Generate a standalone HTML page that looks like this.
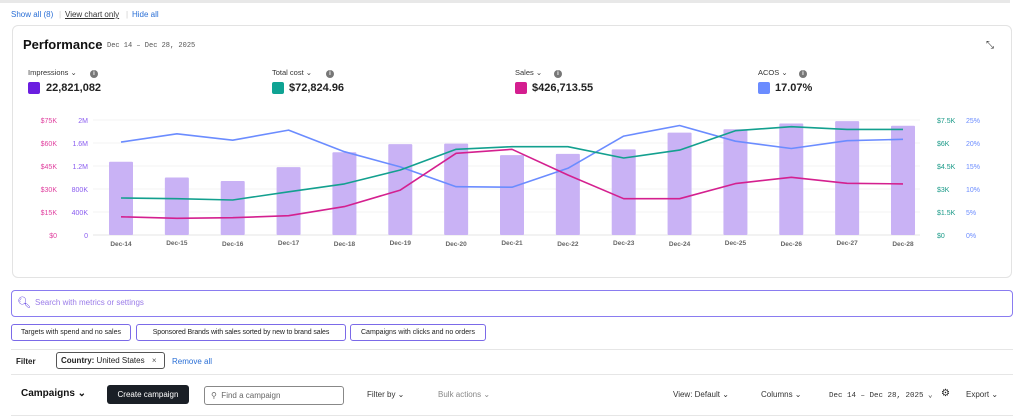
<!DOCTYPE html>
<html><head><meta charset="utf-8"><style>
body{margin:0;width:1024px;height:416px;overflow:hidden;background:#fff;font-family:"Liberation Sans",sans-serif;position:relative}
.a{position:absolute;white-space:nowrap}
.lnk{color:#2a6fd6;font-size:8px}
.chip{position:absolute;top:324px;height:17px;border:1px solid #7b6ae8;border-radius:3px;font-size:7px;color:#222;line-height:15px;padding:0 4px;box-sizing:border-box;white-space:nowrap;overflow:hidden;text-align:center}
.info{display:inline-block;width:8px;height:8px;border-radius:50%;background:#777;color:#fff;font-size:6px;text-align:center;line-height:8px;font-weight:bold}
.sw{position:absolute;width:12px;height:12px;border-radius:2px}
.mv{font-size:11px;font-weight:bold;color:#222}
.ml{font-size:7.5px;color:#333}
.tb{font-size:8px;color:#333}
</style></head><body>
<div class="a" style="left:0;top:0;width:1010px;height:3px;background:#e8e8e8"></div>
<div class="a lnk" style="left:11px;top:10px">Show all (8)</div>
<div class="a" style="left:59px;top:10px;font-size:8px;color:#ccc">|</div>
<div class="a" style="left:65px;top:10px;font-size:8px;color:#333;text-decoration:underline">View chart only</div>
<div class="a" style="left:126px;top:10px;font-size:8px;color:#ccc">|</div>
<div class="a lnk" style="left:132px;top:10px">Hide all</div>
<div class="a" style="left:12px;top:25px;width:1000px;height:253px;border:1px solid #e3e3e3;border-radius:6px;box-sizing:border-box"></div>
<div class="a" style="left:23px;top:37px;font-size:13px;font-weight:bold;color:#111">Performance</div>
<div class="a" style="left:107px;top:42px;font-size:7px;color:#555;font-family:'Liberation Mono',monospace">Dec 14 – Dec 28, 2025</div>
<div class="a" style="left:986px;top:40px;font-size:10px;color:#333">⤡</div>

<div class="a ml" style="left:28px;top:68px">Impressions ⌄</div>
<div class="a info" style="left:90px;top:70px">i</div>
<div class="sw" style="left:28px;top:82px;background:#6b1ee0"></div>
<div class="a mv" style="left:46px;top:82px">22,821,082</div>
<div class="a ml" style="left:272px;top:68px">Total cost ⌄</div>
<div class="a info" style="left:326px;top:70px">i</div>
<div class="sw" style="left:272px;top:82px;background:#0fa393"></div>
<div class="a mv" style="left:289px;top:82px">$72,824.96</div>
<div class="a ml" style="left:515px;top:68px">Sales ⌄</div>
<div class="a info" style="left:554px;top:70px">i</div>
<div class="sw" style="left:515px;top:82px;background:#d41e8f"></div>
<div class="a mv" style="left:532px;top:82px">$426,713.55</div>
<div class="a ml" style="left:758px;top:68px">ACOS ⌄</div>
<div class="a info" style="left:799px;top:70px">i</div>
<div class="sw" style="left:758px;top:82px;background:#6b8cff"></div>
<div class="a mv" style="left:775px;top:82px">17.07%</div>

<svg id="chart" class="a" style="left:0;top:0" width="1024" height="280"></svg>

<div class="a" style="left:11px;top:290px;width:1002px;height:27px;border:1px solid #8a7cf0;border-radius:4px;box-sizing:border-box"></div>
<div class="a" style="left:17px;top:296px;font-size:11px;color:#5a3be0">&#x1F50D;&#xFE0E;</div>
<div class="a" style="left:35px;top:298px;font-size:8px;color:#9a7be8">Search with metrics or settings</div>
<div class="chip" style="left:11px;width:120px">Targets with spend and no sales</div>
<div class="chip" style="left:136px;width:210px;letter-spacing:-0.1px">Sponsored Brands with sales sorted by new to brand sales</div>
<div class="chip" style="left:350px;width:136px">Campaigns with clicks and no orders</div>
<div class="a" style="left:11px;top:349px;width:1002px;height:1px;background:#e6e6e6"></div>
<div class="a" style="left:16px;top:357px;font-size:8px;font-weight:bold;color:#222">Filter</div>
<div class="a" style="left:56px;top:352px;width:109px;height:17px;border:1px solid #555;border-radius:3px;box-sizing:border-box;font-size:8px;line-height:15px;padding-left:4px;color:#222"><b>Country:</b> United States <span style="margin-left:5px;color:#555">×</span></div>
<div class="a lnk" style="left:172px;top:357px">Remove all</div>
<div class="a" style="left:11px;top:374px;width:1002px;height:1px;background:#e6e6e6"></div>
<div class="a" style="left:21px;top:388px;font-size:10px;font-weight:bold;color:#111">Campaigns ⌄</div>
<div class="a" style="left:107px;top:385px;width:82px;height:19px;background:#1a1f26;border-radius:3px;color:#fff;font-size:8px;text-align:center;line-height:19px">Create campaign</div>
<div class="a" style="left:204px;top:386px;width:140px;height:19px;border:1px solid #888;border-radius:3px;box-sizing:border-box;font-size:8px;color:#666;line-height:17px;padding-left:6px">⚲ &nbsp;Find a campaign</div>
<div class="a tb" style="left:367px;top:390px">Filter by ⌄</div>
<div class="a tb" style="left:438px;top:390px;color:#888">Bulk actions ⌄</div>
<div class="a tb" style="left:673px;top:390px">View: Default ⌄</div>
<div class="a tb" style="left:761px;top:390px">Columns ⌄</div>
<div class="a" style="left:829px;top:390px;font-size:7.5px;color:#333;font-family:'Liberation Mono',monospace">Dec 14 – Dec 28, 2025 ⌄</div>
<div class="a" style="left:941px;top:388px;font-size:10px;color:#222">⚙</div>
<div class="a tb" style="left:966px;top:390px">Export ⌄</div>
<div class="a" style="left:11px;top:415px;width:1002px;height:1px;background:#e6e6e6"></div>

<script>
const categories=["Dec-14","Dec-15","Dec-16","Dec-17","Dec-18","Dec-19","Dec-20","Dec-21","Dec-22","Dec-23","Dec-24","Dec-25","Dec-26","Dec-27","Dec-28"];
const impressions=[1275000,1000000,940000,1180000,1440000,1580000,1590000,1390000,1410000,1490000,1780000,1840000,1940000,1980000,1900000];
const totalCost=[2410,2370,2280,2820,3330,4240,5590,5760,5760,5020,5540,6800,7060,6890,6890];
const sales=[11900,10900,11300,12600,18500,29300,53300,55900,39100,23700,23700,33500,37600,33700,33300];
const acos=[20.2,22.0,20.6,22.8,18.1,14.8,10.5,10.4,14.5,21.5,23.8,20.4,18.8,20.5,20.8];
const salesTicks=["$0","$15K","$30K","$45K","$60K","$75K"];
const imprTicks=["0","400K","800K","1.2M","1.6M","2M"];
const costTicks=["$0","$1.5K","$3K","$4.5K","$6K","$7.5K"];
const acosTicks=["0%","5%","10%","15%","20%","25%"];
const imprMax=2000000,salesMax=75000,costMax=7500,acosMax=25;

const svg=document.getElementById('chart');
const NS='http://www.w3.org/2000/svg';
const Y0=235,Y1=120,X0=121,DX=(903-121)/14;
function xs(i){return X0+i*DX;}
function ys(v,max){return Y0-(v/max)*(Y0-Y1);}
function mk(t,a){const e=document.createElementNS(NS,t);for(const k in a)e.setAttribute(k,a[k]);svg.appendChild(e);return e;}
for(let i=0;i<6;i++){
  const y=Y0-i*(Y0-Y1)/5;
  const g=mk('line',{x1:93,x2:920,y1:y,y2:y,stroke:i==0?'#e6e6e6':'#f3f3f3','stroke-width':1});
  
  
  const t1=mk('text',{x:57,y:y+3,'text-anchor':'end','font-size':7,fill:'#e0409f','font-family':'Liberation Sans'});t1.textContent=salesTicks[i];
  
  
  const t2=mk('text',{x:88,y:y+3,'text-anchor':'end','font-size':7,fill:'#8a5cf0','font-family':'Liberation Sans'});t2.textContent=imprTicks[i];
  
  
  const t3=mk('text',{x:937,y:y+3,'font-size':7,fill:'#1a9a88','font-family':'Liberation Sans'});t3.textContent=costTicks[i];
  
  
  const t4=mk('text',{x:966,y:y+3,'font-size':7,fill:'#6b8cff','font-family':'Liberation Sans'});t4.textContent=acosTicks[i];
  
  
}
categories.forEach((c,i)=>{
  const y=ys(impressions[i],imprMax);
  const b=mk('rect',{x:xs(i)-12,y:y,width:24,height:Y0-y,fill:'#c9b2f5',rx:1});
  
  
  const t=mk('text',{x:xs(i),y:Y0+11+(i%2?-1:0),'text-anchor':'middle','font-size':6.5,'font-weight':'bold',fill:'#666','font-family':'Liberation Sans'});t.textContent=c;
  
  
});
function line(arr,max,color,name){
  const p=arr.map((v,i)=>xs(i).toFixed(1)+','+ys(v,max).toFixed(1)).join(' ');
  const l=mk('polyline',{points:p,fill:'none',stroke:color,'stroke-width':1.6,'stroke-linejoin':'round'});
  
  
}
line(acos,acosMax,'#6b8cff','acos-line');
line(totalCost,costMax,'#13a08f','total-cost-line');
line(sales,salesMax,'#d4208f','sales-line');
</script>
</body></html>
